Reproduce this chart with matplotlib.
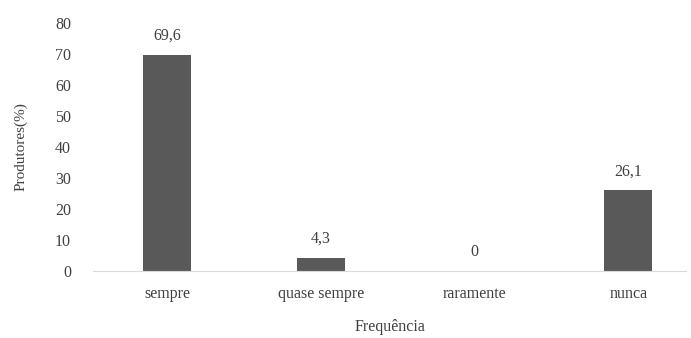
import matplotlib
matplotlib.use('Agg')
import matplotlib.pyplot as plt

categorias = ['sempre', 'quase sempre', 'raramente', 'nunca']
valores = [69.6, 4.3, 0, 26.1]
rotulos = ['69,6', '4,3', '0', '26,1']
yticks = [0, 10, 20, 30, 40, 50, 60, 70, 80]

plt.rcParams['font.family'] = ['Liberation Serif', 'DejaVu Serif']

fig = plt.figure(figsize=(6.91, 3.38), dpi=100)
ax = fig.add_axes([0.135, 0.198, 0.858, 0.735])

x = list(range(len(categorias)))
ax.bar(x, valores, width=0.31, color='#595959')
for xi, v, r in zip(x, valores, rotulos):
    ax.text(xi, v + 3.5, r, ha='center', va='bottom', fontsize=11.5, color='#404040')

ax.set_xlim(-0.481, 3.377)
ax.set_ylim(0, 80)
ax.set_yticks(yticks)
ax.set_yticklabels([str(t) for t in yticks], fontsize=11.5, color='#404040')
ax.set_xticks(x)
ax.set_xticklabels(categorias, fontsize=11.5, color='#404040')
ax.tick_params(axis='both', length=0)
ax.tick_params(axis='y', pad=16)
ax.tick_params(axis='x', pad=11)

for s in ['top', 'right', 'left']:
    ax.spines[s].set_visible(False)
ax.spines['bottom'].set_color('#d9d9d9')

ax.set_ylabel('Produtores(%)', fontsize=11, color='#404040', labelpad=20)
ax.set_xlabel('Frequência', fontsize=11.5, color='#404040', labelpad=12)

fig.savefig('out.png', dpi=100)
